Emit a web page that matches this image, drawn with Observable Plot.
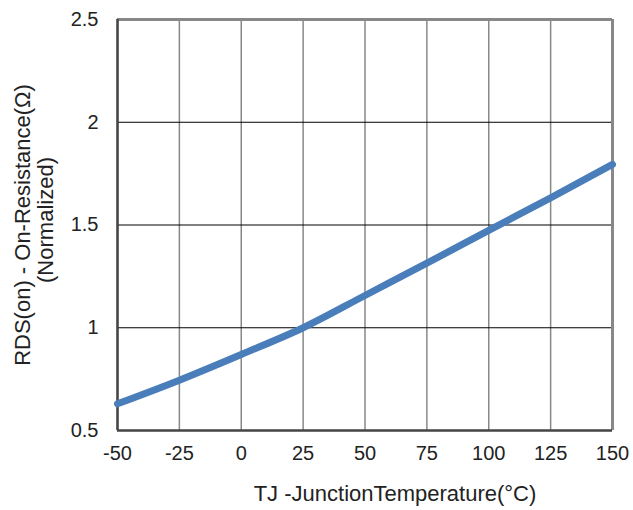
<!DOCTYPE html>
<html>
<head>
<meta charset="utf-8">
<script src="https://cdn.jsdelivr.net/npm/d3@7"></script>
<script src="https://cdn.jsdelivr.net/npm/@observablehq/plot@0.6"></script>
<style>
  html, body { margin: 0; padding: 0; background: #fff; }
  #chart svg { display: block; }
</style>
</head>
<body>
<div id="chart"></div>
<script>
const temps = [-50, -25, 0, 25, 50, 75, 100, 125, 150];
const rds = [0.63, 0.745, 0.87, 1.0, 1.157, 1.314, 1.474, 1.632, 1.795];
const xTicks = [-50, -25, 0, 25, 50, 75, 100, 125, 150];
const yTicks = [0.5, 1, 1.5, 2, 2.5];
const yTitle1 = "RDS(on) - On-Resistance(Ω)";
const yTitle2 = "(Normalized)";
const xTitle = "TJ -JunctionTemperature(°C)";

const data = temps.map((t, i) => ({t, r: rds[i]}));

const chart = Plot.plot({
  width: 633,
  height: 510,
  marginLeft: 117,
  marginRight: 21,
  marginTop: 19,
  marginBottom: 80,
  style: {fontFamily: "'Liberation Sans', Arial, sans-serif", color: "#222", background: "#fff"},
  x: {domain: [-50, 150]},
  y: {domain: [0.5, 2.5]},
  marks: [
    Plot.gridX(xTicks, {stroke: "#888", strokeOpacity: 1, strokeWidth: 1.5}),
    Plot.gridY(yTicks, {stroke: "#000", strokeOpacity: 1, strokeWidth: 1}),
    Plot.ruleY([2.5], {stroke: "#888", strokeWidth: 3}),
    Plot.ruleX([150], {stroke: "#888", strokeWidth: 3}),
    Plot.ruleX([-50], {stroke: "#444", strokeWidth: 2.5}),
    Plot.ruleY([0.5], {stroke: "#444", strokeWidth: 2.5}),
    Plot.line(data, {x: "t", y: "r", stroke: "#4a7ebb", strokeWidth: 7, curve: "monotone-x"}),
    Plot.axisX(xTicks, {tickSize: 0, tickPadding: 15, fontSize: 20, label: null, tickFormat: d => String(d)}),
    Plot.axisY(yTicks, {tickSize: 0, tickPadding: 19, fontSize: 20, label: null, tickFormat: d => String(d)}),
    Plot.text([yTitle1], {text: d => d, frameAnchor: "left", rotate: -90, dx: -95, fontSize: 22, fill: "#222", textAnchor: "middle", lineAnchor: "middle"}),
    Plot.text([yTitle2], {text: d => d, frameAnchor: "left", rotate: -90, dx: -72, dy: -5, fontSize: 22, fill: "#222", textAnchor: "middle", lineAnchor: "middle"}),
    Plot.text([xTitle], {text: d => d, frameAnchor: "bottom", dx: 30, dy: 55, fontSize: 22, fill: "#222", textAnchor: "middle", lineAnchor: "top"})
  ]
});
document.getElementById("chart").appendChild(chart);
</script>
</body>
</html>
